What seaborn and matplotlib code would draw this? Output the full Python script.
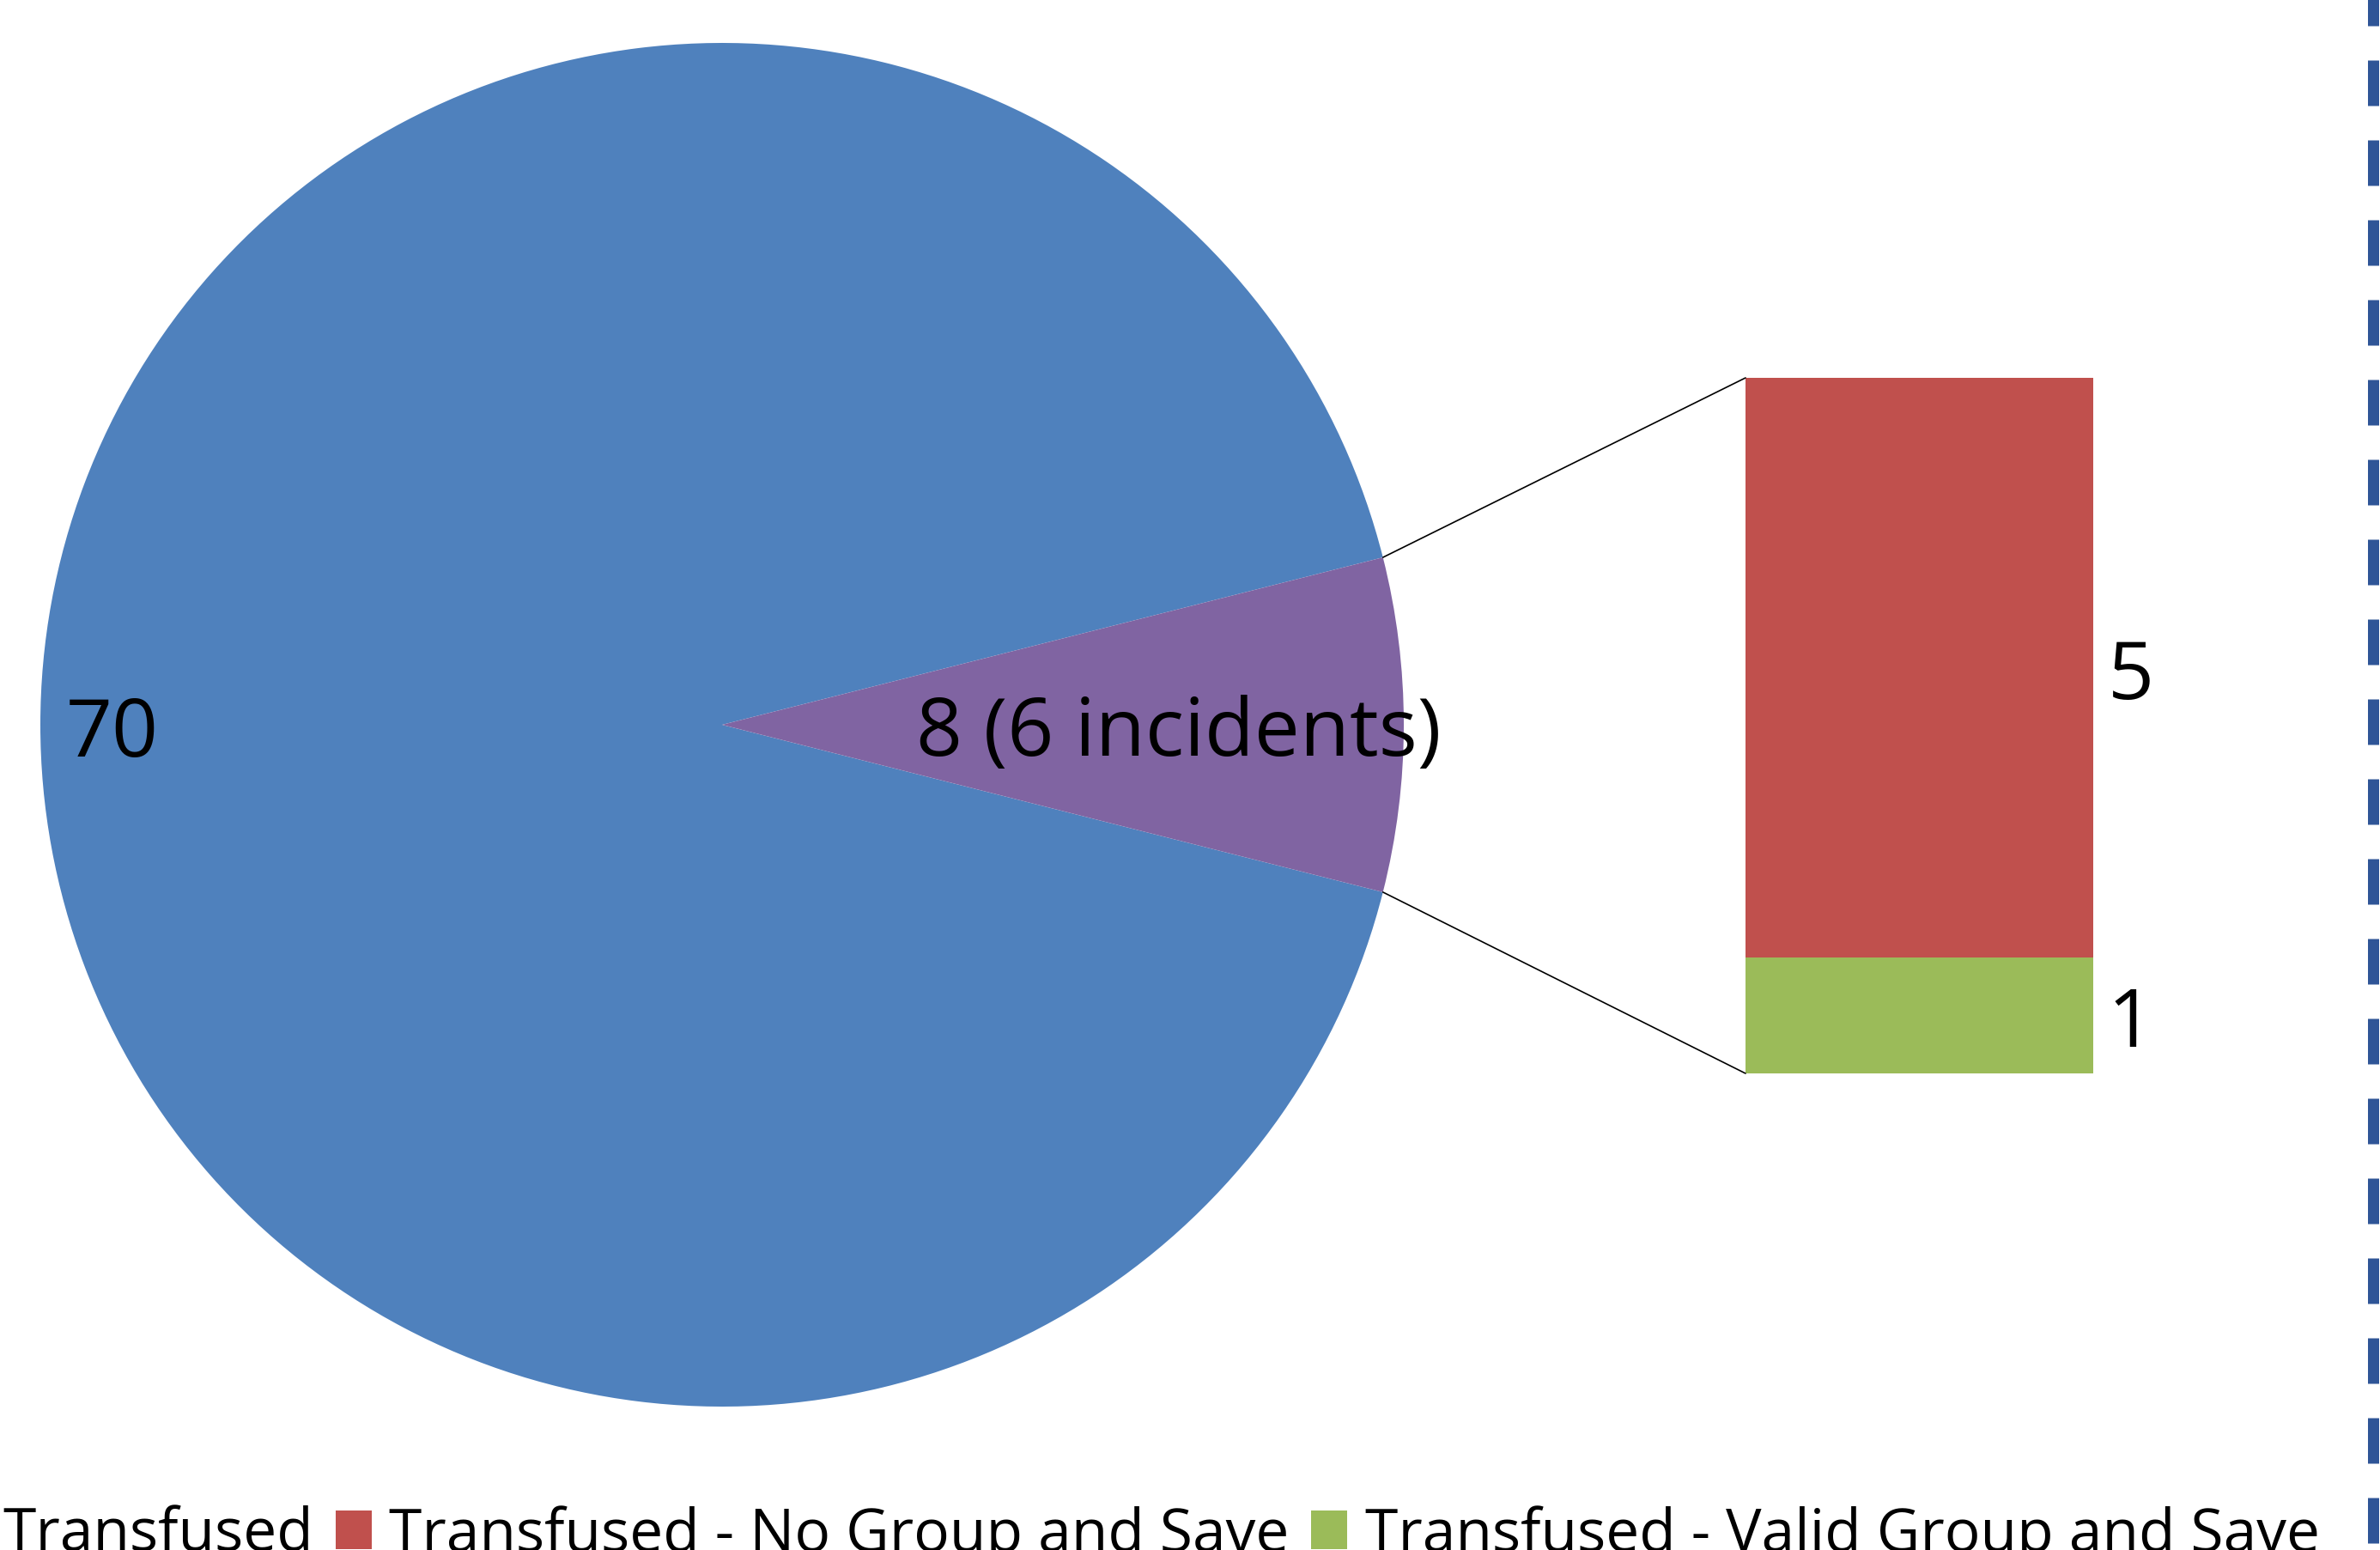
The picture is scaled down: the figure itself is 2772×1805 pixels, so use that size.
import numpy as np
import pandas as pd
import matplotlib
matplotlib.use("Agg")
import matplotlib.pyplot as plt
from matplotlib.patches import Patch, ConnectionPatch
from matplotlib.lines import Line2D
import seaborn as sns

# data
pie_values = [70, 6]
pie_texts = ["70", "8 (6 incidents)"]
bar_categories = ["Transfused - Valid Group and Save", "Transfused - No Group and Save"]  # bottom to top
bar_values = [1, 5]
legend_labels = ["Transfused", "Transfused - No Group and Save", "Transfused - Valid Group and Save"]

blue = "#4F81BD"
purple = "#8064A2"
red = "#C0504D"
green = "#9BBB59"
bar_colors = [green, red]

sns.set_theme(style="white")
plt.rcParams["font.family"] = ["Open Sans", "DejaVu Sans"]
plt.rcParams["text.color"] = "black"
plt.rcParams["lines.scale_dashes"] = False

W, H = 2772, 1806
fig = plt.figure(figsize=(W / 100, H / 100), dpi=100)
fig.patch.set_facecolor("white")

# pie: centre (841, 845) px, radius 794 px
cx, cy, r = 841, 845, 794
pax = fig.add_axes([(cx - r) / W, (H - cy - r) / H, 2 * r / W, 2 * r / H])
theta = pie_values[1] / sum(pie_values) * 360
wedges, _ = pax.pie(pie_values, colors=[blue, purple], startangle=theta / 2,
                    radius=1, wedgeprops=dict(linewidth=0))
pax.set_xlim(-1, 1)
pax.set_ylim(-1, 1)
pax.axis("off")

label_dist = [0.895, 0.67]
for w, txt, d in zip(wedges, pie_texts, label_dist):
    mid = np.deg2rad((w.theta1 + w.theta2) / 2)
    pax.text(d * np.cos(mid), d * np.sin(mid), txt, ha="center", va="center_baseline",
             fontsize=68, color="black")

# stacked bar (bar of pie)
bx0, bx1, by_top, by_bot = 2033, 2438, 441, 1251
bax = fig.add_axes([bx0 / W, (H - by_bot) / H, (bx1 - bx0) / W, (by_bot - by_top) / H])
df = pd.DataFrame({"cat": bar_categories, "value": bar_values})
df["top"] = df["value"].cumsum()
for i in reversed(range(len(df))):
    sns.barplot(x=["x"], y=[df["top"][i]], color=bar_colors[i], width=1,
                linewidth=0, errorbar=None, saturation=1, ax=bax)
bottoms = df["top"] - df["value"]
for i in range(len(df)):
    bax.annotate(str(df["value"][i]), xy=(0.5, bottoms[i] + df["value"][i] / 2),
                 xytext=(12, 0), textcoords="offset points", ha="left",
                 va="center_baseline", fontsize=68, color="black",
                 annotation_clip=False)
bax.set_xlim(-0.5, 0.5)
bax.set_ylim(0, df["top"].iloc[-1])
bax.axis("off")

# connector lines from the purple wedge to the bar
w = wedges[1]
for ang, yb in [(w.theta2, df["top"].iloc[-1]), (w.theta1, 0)]:
    a = np.deg2rad(ang)
    con = ConnectionPatch(xyA=(np.cos(a), np.sin(a)), coordsA=pax.transData,
                          xyB=(-0.5, yb), coordsB=bax.transData,
                          color="black", linewidth=1.2)
    fig.add_artist(con)

# dashed separator at the right edge
sep = Line2D([2764 / W, 2764 / W], [1, 0], transform=fig.transFigure,
             color="#2F5597", linewidth=13 * 0.72, dash_capstyle="butt",
             linestyle=(22 * 0.72, (53 * 0.72, 40 * 0.72)))
fig.add_artist(sep)

# legend along the bottom, partly cut off on the left
handles = [Patch(facecolor=c, edgecolor="none") for c in [blue, red, green]]
fig.legend(handles, legend_labels, loc="lower left", ncol=3,
           bbox_to_anchor=(-59 / W, -18 / H), frameon=False, fontsize=50,
           labelcolor="black",
           handlelength=0.605, handleheight=0.63, handletextpad=0.30,
           columnspacing=0.36, borderpad=0, borderaxespad=0)

fig.savefig("out.png", dpi=100, facecolor="white")
